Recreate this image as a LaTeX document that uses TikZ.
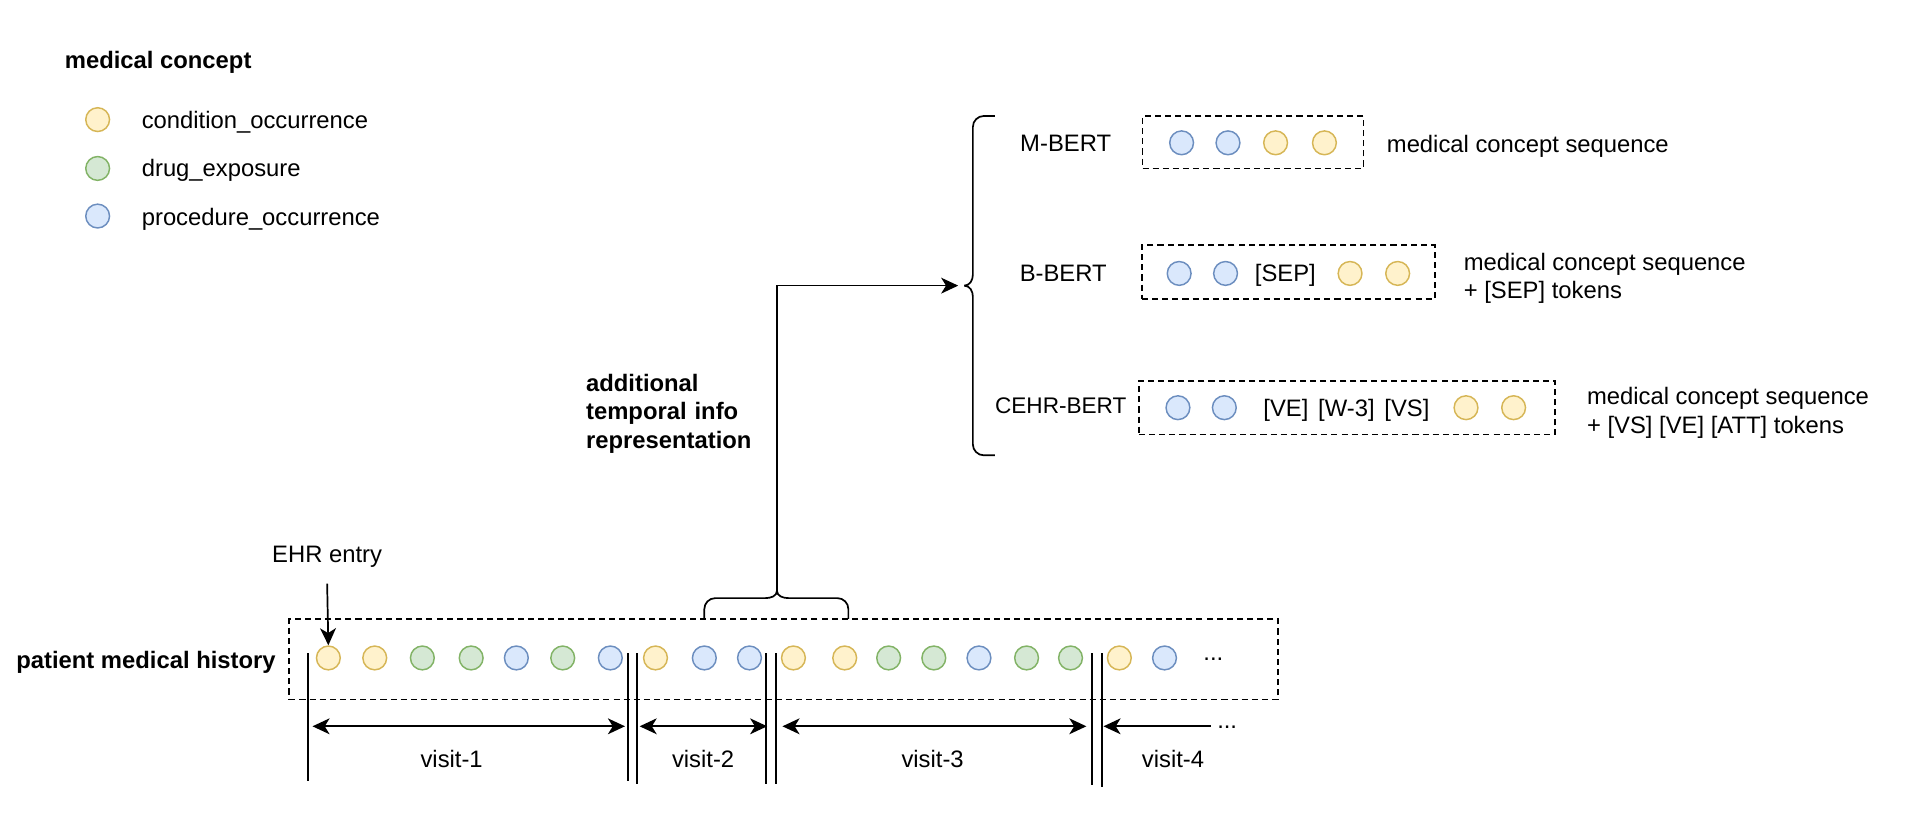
\documentclass[tikz,border=0pt]{standalone}
\usepackage{fontspec}
\setmainfont{Liberation Sans}
\usetikzlibrary{arrows.meta}
\definecolor{yfill}{HTML}{FFF2CC}
\definecolor{ydraw}{HTML}{D6B656}
\definecolor{gfill}{HTML}{D5E8D4}
\definecolor{gdraw}{HTML}{82B366}
\definecolor{bfill}{HTML}{DAE8FC}
\definecolor{bdraw}{HTML}{6C8EBF}
\newcommand\fsz{\fontsize{19.5}{23.5}\selectfont}
\newcommand\fsm{\fontsize{18.5}{22}\selectfont}
\begin{document}
\begin{tikzpicture}[x=1pt,y=-1pt,
  txt/.style={font=\fsz, inner sep=0pt, text height=14pt, text depth=4pt, yshift=-2pt},
  btxt/.style={txt, font=\fsz\bfseries},
  mtxt/.style={font=\fsz, inner sep=0pt, align=left, yshift=-2pt},
  cc/.style={circle, minimum size=19.5pt, inner sep=0pt, line width=1.2pt},
  Y/.style={cc, draw=ydraw, fill=yfill},
  G/.style={cc, draw=gdraw, fill=gfill},
  B/.style={cc, draw=bdraw, fill=bfill},
  dbox/.style={draw, line width=1.5pt, dash pattern=on 5pt off 3.3pt, inner sep=0pt},
  arr/.style={-{Stealth[length=14pt,width=13pt,inset=4pt]}, line width=1.4pt},
  dblarr/.style={{Stealth[length=14pt,width=13pt,inset=4pt]}-{Stealth[length=14pt,width=13pt,inset=4pt]}, line width=1.4pt},
  brace/.style={line width=1.4pt},
  sep/.style={line width=1.6pt}
]
\useasboundingbox (0,0) rectangle (1568,680);

% legend
\node[btxt, anchor=west] (legt) at (53,49) {medical concept};
\node[Y] (ly) at (80,98) {};
\node[G] (lg) at (80,138) {};
\node[B] (lb) at (80,177) {};
\node[txt, anchor=west] (lyt) at (116,98) {condition\_occurrence};
\node[txt, anchor=west] (lgt) at (116,138) {drug\_exposure};
\node[txt, anchor=west] (lbt) at (116,178) {procedure\_occurrence};

% model rows
\node[txt] (mbert) at (873,117) {M-BERT};
\node[dbox, minimum width=181pt, minimum height=43pt] (mbox) at (1026.5,116.5) {};
\node[B] (m1) at (968,117) {};
\node[B] (m2) at (1006,117) {};
\node[Y] (m3) at (1045,117) {};
\node[Y] (m4) at (1085,117) {};
\node[txt, anchor=west] (mdesc) at (1136,118) {medical concept sequence};

\node[txt] (bbert) at (871,224) {B-BERT};
\node[dbox, minimum width=240pt, minimum height=44pt] (bbox) at (1055.5,223) {};
\node[B] (b1) at (966,224) {};
\node[B] (b2) at (1004,224) {};
\node[txt] (bsep) at (1053,224) {[SEP]};
\node[Y] (b3) at (1106,224) {};
\node[Y] (b4) at (1145,224) {};
\node[mtxt, anchor=west] (bdesc) at (1199,226) {medical concept sequence\\+ [SEP] tokens};

\node[txt, font=\fsm] (cbert) at (869,332) {CEHR-BERT};
\node[dbox, minimum width=341pt, minimum height=44pt] (cbox) at (1103.5,334) {};
\node[B] (c1) at (965,334) {};
\node[B] (c2) at (1003,334) {};
\node[txt] (ctok) at (1103,334) {[VE]\hspace{8pt}[W-3]\hspace{8pt}[VS]};
\node[Y] (c3) at (1201,334) {};
\node[Y] (c4) at (1240,334) {};
\node[mtxt, anchor=west] (cdesc) at (1300,336) {medical concept sequence\\+ [VS] [VE] [ATT] tokens};

% right brace
\coordinate (rbt) at (790,234);
\draw[brace] (815,95) -- (806,95) to[out=180,in=90] (797,104) -- (797,225) to[out=-90,in=0] (rbt);
\draw[brace] (815,373) -- (806,373) to[out=180,in=-90] (797,364) -- (797,243) to[out=90,in=0] (rbt);

% additional temporal info
\node[mtxt, font=\fsz\bfseries, anchor=west, text width=150pt] (addl) at (480,337)
  {\fontsize{19.5}{22.5}\selectfont additional\\temporal info\\representation};

% patient history
\node[btxt, anchor=east] (pmh) at (226,541) {patient medical history};
\node[dbox, minimum width=810pt, minimum height=66pt] (pbox) at (642,540) {};

\foreach \x/\c [count=\i] in {269/Y,307/Y,346/G,386/G,423/B,461/G,500/B,537/Y,577/B,614/B,650/Y,692/Y,728/G,765/G,802/B,841/G,877/G,917/Y,954/B}
  \node[\c] (p\i) at (\x,539) {};
\node[font=\fsz, inner sep=0pt] (pdots) at (994,540) {...};

\node[txt] (ehr) at (268,454) {EHR entry};
\draw[arr] (ehr.south) ++(0,13) -- (p1.north);

% bottom brace
\coordinate (bbt) at (636.5,484);
\draw[brace] (577,507) -- (577,499) to[out=90,in=180] (586,490) -- (627,490) to[out=0,in=-90] (bbt);
\draw[brace] (695,507) -- (695,499) to[out=90,in=0] (686,490) -- (646,490) to[out=180,in=-90] (bbt);

% connector brace -> brace
\draw[arr, shorten >=5pt] (bbt) |- (rbt);

% separators
\draw[sep] (252,535) -- (252,640);
\draw[sep] (514.5,535) -- (514.5,640);
\draw[sep] (522,535) -- (522,642);
\draw[sep] (627.5,535) -- (627.5,642);
\draw[sep] (635.5,535) -- (635.5,642);
\draw[sep] (894.5,535) -- (894.5,643);
\draw[sep] (903,535) -- (903,645);

% visit arrows
\coordinate (v1a) at (256,595); \coordinate (v1b) at (512,595);
\coordinate (v2a) at (524,595); \coordinate (v2b) at (628.5,595);
\coordinate (v3a) at (641,595); \coordinate (v3b) at (890,595);
\coordinate (v4a) at (992,595); \coordinate (v4b) at (904,595);
\draw[dblarr] (v1a) -- (v1b);
\draw[dblarr] (v2a) -- (v2b);
\draw[dblarr] (v3a) -- (v3b);
\draw[arr] (v4a) -- (v4b);
\node[font=\fsz, inner sep=0pt, anchor=base west] (vdots) at (997,597) {...};

\node[txt] (vis1) at (370,622) {visit-1};
\node[txt] (vis2) at (576,622) {visit-2};
\node[txt] (vis3) at (764,622) {visit-3};
\node[txt] (vis4) at (961,622) {visit-4};
\end{tikzpicture}
\end{document}
